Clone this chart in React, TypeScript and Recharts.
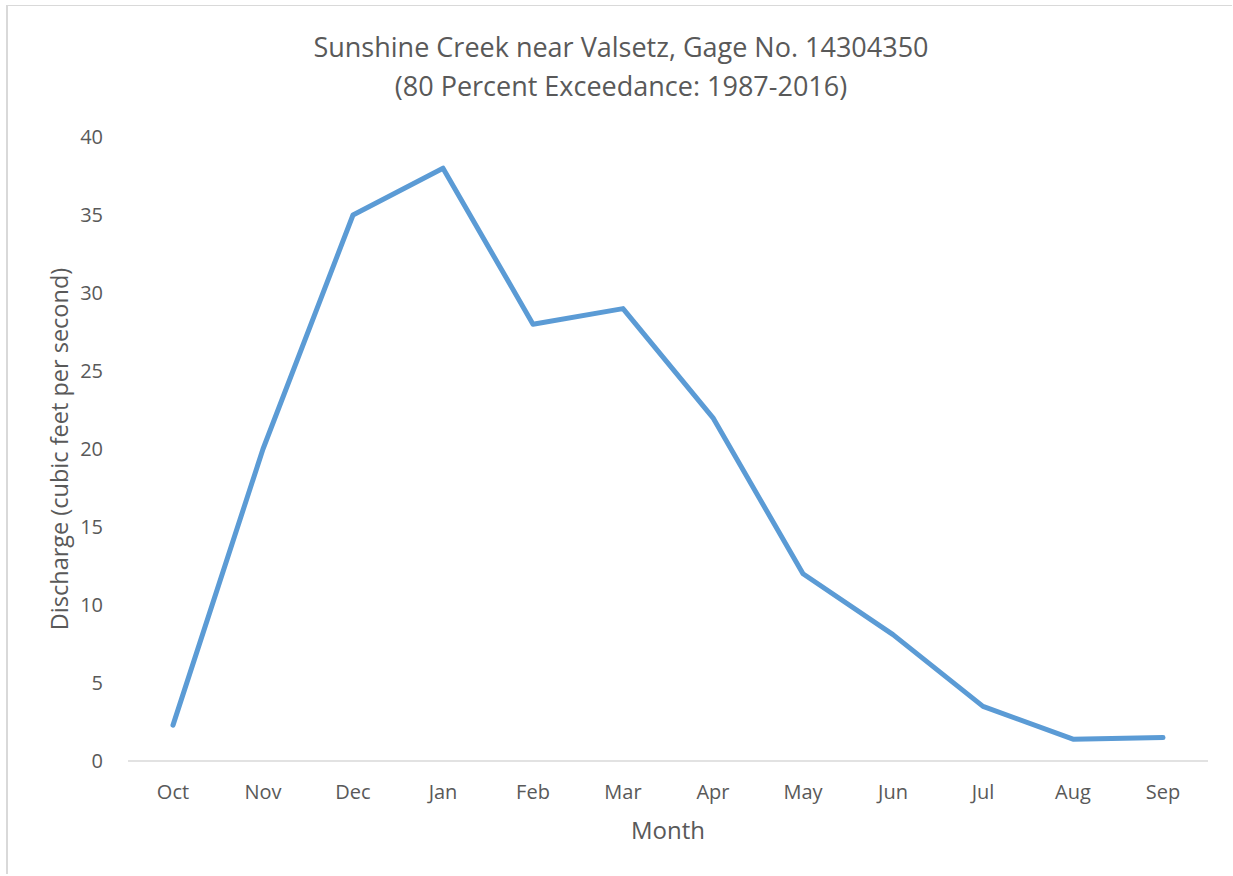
import { LineChart, Line, XAxis, YAxis } from "recharts";

const months = ["Oct", "Nov", "Dec", "Jan", "Feb", "Mar", "Apr", "May", "Jun", "Jul", "Aug", "Sep"];
const discharge = [2.3, 20, 35, 38, 28, 29, 22, 12, 8.1, 3.5, 1.4, 1.5];
const yTicks = [0, 5, 10, 15, 20, 25, 30, 35, 40];

const data = months.map((month, i) => ({ month, discharge: discharge[i] }));

const FONT = "'Open Sans', sans-serif";
const TEXT = "#595959";

export default function App() {
  return (
    <div
      style={{
        position: "absolute",
        left: 6,
        top: 5,
        width: 1224,
        height: 868,
        overflow: "hidden",
        borderLeft: "2px solid #d9d9d9",
        borderTop: "1.5px solid #d9d9d9",
        background: "#fff",
        fontFamily: FONT,
        color: TEXT,
      }}
    >
      <div
        style={{
          position: "absolute",
          top: 21,
          left: 0,
          width: 1226,
          textAlign: "center",
          fontSize: 27,
          lineHeight: "39px",
        }}
      >
        Sunshine Creek near Valsetz, Gage No. 14304350
        <br />
        (80 Percent Exceedance: 1987-2016)
      </div>
      <LineChart
        width={1224}
        height={868}
        data={data}
        margin={{ top: 131, right: 24, bottom: 0, left: 0 }}
      >
        <XAxis
          dataKey="month"
          height={113}
          padding={{ left: 45, right: 45 }}
          tickLine={false}
          tickMargin={18}
          axisLine={{ stroke: "#d9d9d9", strokeWidth: 1.5 }}
          tick={{ fill: TEXT, fontSize: 20, fontFamily: FONT }}
          label={{
            value: "Month",
            position: "insideTop",
            offset: 61,
            fill: TEXT,
            fontSize: 24,
            fontFamily: FONT,
          }}
        />
        <YAxis
          width={120}
          domain={[0, 40]}
          ticks={yTicks}
          axisLine={false}
          tickLine={false}
          tickMargin={19}
          tick={{ fill: TEXT, fontSize: 20, fontFamily: FONT }}
          label={{
            value: "Discharge (cubic feet per second)",
            angle: -90,
            position: "insideLeft",
            offset: 52,
            fill: TEXT,
            fontSize: 23.5,
            fontFamily: FONT,
            style: { textAnchor: "middle" },
          }}
        />
        <Line
          type="linear"
          dataKey="discharge"
          stroke="#5B9BD5"
          strokeWidth={5}
          strokeLinecap="round"
          strokeLinejoin="round"
          dot={false}
          activeDot={false}
          isAnimationActive={false}
        />
      </LineChart>
    </div>
  );
}
